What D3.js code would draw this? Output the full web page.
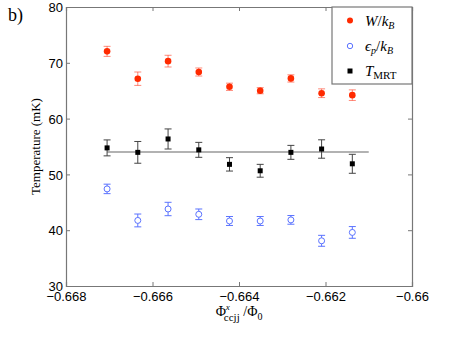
<!DOCTYPE html>
<html>
<head>
<meta charset="utf-8">
<script src="https://cdn.jsdelivr.net/npm/d3@7"></script>
<style>
  body { margin: 0; background: #fff; }
  svg text { fill: #000; }
</style>
</head>
<body>
<div id="chart"></div>
<script>
// flux bias values (Phi_ccjj / Phi_0)
const fluxValues = [-0.66705, -0.66634, -0.66564, -0.66493, -0.66422, -0.66351, -0.6628, -0.66209, -0.66138];

// W / k_B
const wValues = [72.05, 67.15, 70.3, 68.35, 65.7, 65.0, 67.2, 64.55, 64.2];
const wErrors = [0.9, 1.2, 1.05, 0.72, 0.65, 0.55, 0.65, 0.78, 0.95];

// eps_p / k_B
const epsValues = [47.4, 41.75, 43.8, 42.85, 41.65, 41.65, 41.85, 38.1, 39.6];
const epsErrors = [0.85, 1.15, 1.2, 0.95, 0.8, 0.8, 0.78, 0.98, 1.05];

// T_MRT
const tValues = [54.75, 53.95, 56.35, 54.4, 51.8, 50.65, 53.95, 54.55, 51.9];
const tErrors = [1.43, 1.95, 1.8, 1.34, 1.2, 1.15, 1.25, 1.65, 1.7];

// fitted mean temperature
const tMean = 54.0;
const tMeanRange = [-0.66705, -0.661];

const xTicks = [-0.668, -0.666, -0.664, -0.662, -0.66];
const yTicks = [30, 40, 50, 60, 70, 80];

const width = 450;
const height = 337;
const margin = { top: 7, right: 38, bottom: 51, left: 66 };

const svg = d3.select("#chart")
  .append("svg")
  .attr("width", width)
  .attr("height", height);

const x = d3.scaleLinear()
  .domain([-0.668, -0.66])
  .range([margin.left, width - margin.right]);

const y = d3.scaleLinear()
  .domain([30, 80])
  .range([height - margin.bottom, margin.top]);

const axisColor = "#777";
const tickFont = "'Liberation Sans', Arial, sans-serif";
const serif = "'Liberation Serif', 'DejaVu Serif', serif";

// 标签 b)
svg.append("text")
  .attr("x", 8)
  .attr("y", 21)
  .style("font-family", serif)
  .style("font-size", "18px")
  .text("b)");

// box axes
const fmtX = d => d3.format("")(d).replace("-", "\u2212");

const xAxisBottom = svg.append("g")
  .attr("transform", `translate(0,${y(30)})`)
  .call(d3.axisBottom(x).tickValues(xTicks).tickSize(-4).tickPadding(6).tickFormat(fmtX));

const xAxisTop = svg.append("g")
  .attr("transform", `translate(0,${y(80)})`)
  .call(d3.axisTop(x).tickValues(xTicks).tickSize(-4).tickFormat(""));

const yAxisLeft = svg.append("g")
  .attr("transform", `translate(${x(-0.668)},0)`)
  .call(d3.axisLeft(y).tickValues(yTicks).tickSize(-4).tickPadding(3));

const yAxisRight = svg.append("g")
  .attr("transform", `translate(${x(-0.66)},0)`)
  .call(d3.axisRight(y).tickValues(yTicks).tickSize(-4).tickFormat(""));

[xAxisBottom, xAxisTop, yAxisLeft, yAxisRight].forEach(a => {
  a.select(".domain").attr("stroke", axisColor).attr("stroke-width", 1.2);
  a.selectAll(".tick line").attr("stroke", axisColor);
  a.selectAll("text")
    .style("font-family", tickFont)
    .style("font-size", "13px")
    .attr("fill", "#000");
});
yAxisLeft.selectAll("text").attr("dy", "0.36em");

// y label
svg.append("text")
  .attr("transform", `translate(40,${(y(30) + y(80)) / 2}) rotate(-90)`)
  .attr("text-anchor", "middle")
  .style("font-family", serif)
  .style("font-size", "13px")
  .text("Temperature (mK)");

// x label
const xl = svg.append("text")
  .attr("x", (x(-0.668) + x(-0.66)) / 2)
  .attr("y", 316)
  .attr("text-anchor", "middle")
  .style("font-family", serif)
  .style("font-size", "14px");
xl.append("tspan").text("\u03A6");
xl.append("tspan").attr("dy", -6).style("font-size", "9px").style("font-style", "italic").text("x");
xl.append("tspan").attr("dx", -6).attr("dy", 11).style("font-size", "11px").text("ccjj");
xl.append("tspan").attr("dy", -5).text(" /\u03A6");
xl.append("tspan").attr("dy", 4).style("font-size", "10px").text("0");

// horizontal mean line
svg.append("line")
  .attr("x1", x(tMeanRange[0]))
  .attr("x2", x(tMeanRange[1]))
  .attr("y1", y(tMean))
  .attr("y2", y(tMean))
  .attr("stroke", "#999")
  .attr("stroke-width", 1.5);

// 误差棒
function errorBars(values, errors, color, opacity) {
  const g = svg.append("g")
    .attr("stroke", color)
    .attr("stroke-opacity", opacity)
    .attr("stroke-width", 1);
  const cap = 3.5;
  values.forEach((v, i) => {
    const cx = x(fluxValues[i]);
    g.append("line")
      .attr("x1", cx).attr("x2", cx)
      .attr("y1", y(v - errors[i])).attr("y2", y(v + errors[i]));
    g.append("line")
      .attr("x1", cx - cap).attr("x2", cx + cap)
      .attr("y1", y(v - errors[i])).attr("y2", y(v - errors[i]));
    g.append("line")
      .attr("x1", cx - cap).attr("x2", cx + cap)
      .attr("y1", y(v + errors[i])).attr("y2", y(v + errors[i]));
  });
}

errorBars(wValues, wErrors, "#ff3b1f", 0.6);
errorBars(epsValues, epsErrors, "#5b73ff", 1);
errorBars(tValues, tErrors, "#444", 1);

// W 红点
svg.append("g")
  .selectAll("circle")
  .data(wValues)
  .enter()
  .append("circle")
  .attr("cx", (d, i) => x(fluxValues[i]))
  .attr("cy", d => y(d))
  .attr("r", 3.3)
  .attr("fill", "#ff2a00");

// eps 空心圆
svg.append("g")
  .selectAll("circle")
  .data(epsValues)
  .enter()
  .append("circle")
  .attr("cx", (d, i) => x(fluxValues[i]))
  .attr("cy", d => y(d))
  .attr("r", 3)
  .attr("fill", "#fff")
  .attr("stroke", "#5b73ff")
  .attr("stroke-width", 1);

// T_MRT 方块
const sq = 5;
svg.append("g")
  .selectAll("rect")
  .data(tValues)
  .enter()
  .append("rect")
  .attr("x", (d, i) => x(fluxValues[i]) - sq / 2)
  .attr("y", d => y(d) - sq / 2)
  .attr("width", sq)
  .attr("height", sq)
  .attr("fill", "#000");

// legend
const lg = svg.append("g");
lg.append("rect")
  .attr("x", 332)
  .attr("y", y(80))
  .attr("width", x(-0.66) - 332)
  .attr("height", 77)
  .attr("fill", "#fff")
  .attr("stroke", axisColor)
  .attr("stroke-width", 1.2);

const legendRows = [20.5, 46, 71];
lg.append("circle").attr("cx", 350).attr("cy", legendRows[0]).attr("r", 3).attr("fill", "#ff2a00");
lg.append("circle").attr("cx", 350).attr("cy", legendRows[1]).attr("r", 2.7)
  .attr("fill", "none").attr("stroke", "#5b73ff");
lg.append("rect").attr("x", 350 - 2.5).attr("y", legendRows[2] - 2.5).attr("width", 5).attr("height", 5).attr("fill", "#000");

const lt = (row) => lg.append("text")
  .attr("x", 365)
  .attr("y", legendRows[row] + 5)
  .style("font-family", serif)
  .style("font-size", "15px");

const t0 = lt(0);
t0.append("tspan").style("font-style", "italic").text("W");
t0.append("tspan").text("/");
t0.append("tspan").style("font-style", "italic").text("k");
t0.append("tspan").attr("dy", 3).style("font-size", "10px").style("font-style", "italic").text("B");

const t1 = lt(1);
t1.append("tspan").style("font-style", "italic").text("\u03F5");
t1.append("tspan").attr("dy", 3).style("font-size", "10px").style("font-style", "italic").text("p");
t1.append("tspan").attr("dy", -3).text("/");
t1.append("tspan").style("font-style", "italic").text("k");
t1.append("tspan").attr("dy", 3).style("font-size", "10px").style("font-style", "italic").text("B");

const t2 = lt(2);
t2.append("tspan").style("font-style", "italic").text("T");
t2.append("tspan").attr("dy", 3).style("font-size", "11px").text("MRT");
</script>
</body>
</html>
